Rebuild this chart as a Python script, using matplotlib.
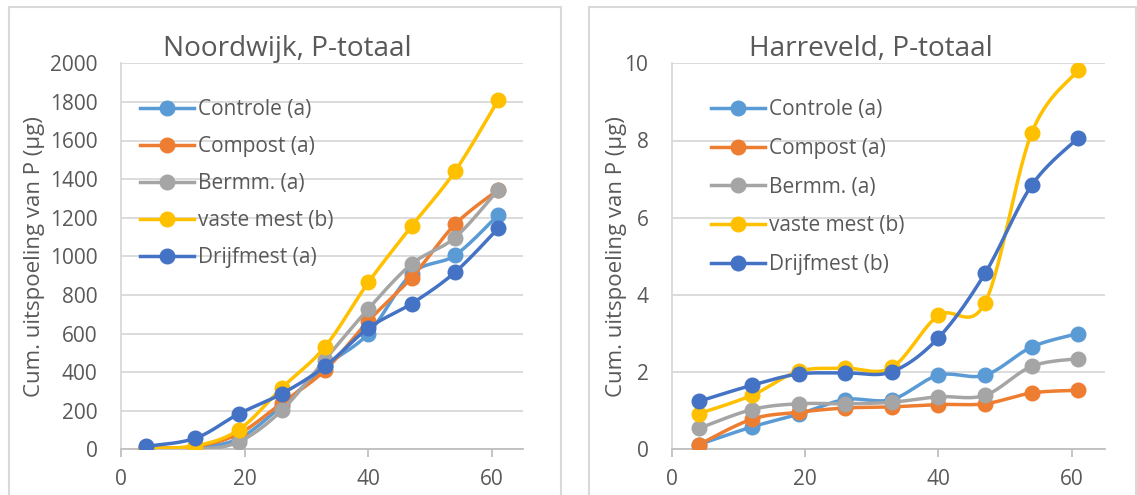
import numpy as np
import matplotlib
matplotlib.use("Agg")
import matplotlib.pyplot as plt
from matplotlib.lines import Line2D
from matplotlib.patches import Rectangle

plt.rcParams['font.family'] = ['Open Sans', 'DejaVu Sans']

days = [4, 12, 19, 26, 33, 40, 47, 54, 61]

nw_controle = [5, 10, 55, 225, 430, 600, 910, 1005, 1215]
nw_compost = [5, 15, 80, 240, 410, 665, 890, 1165, 1345]
nw_bermm = [5, 0, 38, 202, 465, 728, 960, 1097, 1345]
nw_vaste = [5, 18, 100, 318, 532, 865, 1157, 1440, 1810]
nw_drijf = [15, 57, 183, 288, 430, 628, 755, 917, 1145]

hv_controle = [0.12, 0.58, 0.91, 1.29, 1.29, 1.92, 1.92, 2.65, 3.0]
hv_compost = [0.12, 0.78, 0.96, 1.07, 1.10, 1.16, 1.18, 1.46, 1.53]
hv_bermm = [0.54, 1.03, 1.18, 1.18, 1.22, 1.36, 1.40, 2.15, 2.35]
hv_vaste = [0.92, 1.40, 2.02, 2.10, 2.12, 3.47, 3.80, 8.20, 9.82]
hv_drijf = [1.24, 1.66, 1.95, 1.98, 2.01, 2.89, 4.56, 6.84, 8.07]

labels_nw = ["Controle (a)", "Compost (a)", "Bermm. (a)", "vaste mest (b)", "Drijfmest (a)"]
labels_hv = ["Controle (a)", "Compost (a)", "Bermm. (a)", "vaste mest (b)", "Drijfmest (b)"]
colors = ["#5B9BD5", "#ED7D31", "#A5A5A5", "#FFC000", "#4472C4"]

x_ticks = [0, 20, 40, 60]
nw_yticks = [0, 200, 400, 600, 800, 1000, 1200, 1400, 1600, 1800, 2000]
hv_yticks = [0, 2, 4, 6, 8, 10]

TXT = "#595959"
GRID = "#D9D9D9"
W, H = 1137, 495


def smooth(x, y, n=30):
    x = np.asarray(x, float)
    y = np.asarray(y, float)
    P = np.column_stack([x, y])
    k = len(P)
    out = []
    t = np.linspace(0, 1, n)[:, None]
    for i in range(k - 1):
        p0 = P[i]
        p3 = P[i + 1]
        pm = P[i - 1] if i > 0 else P[i]
        pp = P[i + 2] if i + 2 < k else P[i + 1]
        c1 = p0 + (p3 - pm) / 6.0
        c2 = p3 - (pp - p0) / 6.0
        seg = ((1 - t) ** 3) * p0 + 3 * ((1 - t) ** 2) * t * c1 + 3 * (1 - t) * t ** 2 * c2 + t ** 3 * p3
        out.append(seg if i == 0 else seg[1:])
    s = np.vstack(out)
    return s[:, 0], s[:, 1]


def px_rect(x0, y0, x1, y1):
    return [x0 / W, 1 - y1 / H, (x1 - x0) / W, (y1 - y0) / H]


fig = plt.figure(figsize=(W / 100, H / 100), dpi=100)
fig.patch.set_facecolor("white")

# chart-area borders
for (x0, x1) in [(9, 561), (589, 1136)]:
    fig.patches.append(Rectangle((x0 / W, -0.05), (x1 - x0) / W, 1 - 7 / H + 0.05,
                                 transform=fig.transFigure, fill=False,
                                 edgecolor="#D9D9D9", linewidth=1.5))

ax1 = fig.add_axes(px_rect(121, 63.3, 523, 449.3))
ax2 = fig.add_axes(px_rect(672, 63.3, 1105, 449.3))


def style(ax, yticks, ylim, title, series, labels, title_x, leg_anchor, lspace, ylab_x):
    for vals, col, lab in zip(series, colors, labels):
        sx, sy = smooth(days, vals)
        ax.plot(sx, sy, color=col, lw=2.5, solid_capstyle='round', zorder=3)
        ax.plot(days, vals, 'o', color=col, ms=10.5, zorder=3)
    ax.set_xlim(0, 65)
    ax.set_ylim(*ylim)
    ax.set_xticks(x_ticks)
    ax.set_yticks(yticks)
    ax.yaxis.grid(True, color=GRID, lw=1.3)
    ax.set_axisbelow(True)
    for s in ["top", "right"]:
        ax.spines[s].set_visible(False)
    ax.spines["left"].set_color(GRID)
    ax.spines["bottom"].set_color("#BFBFBF")
    ax.spines["left"].set_linewidth(1.3)
    ax.spines["bottom"].set_linewidth(1.3)
    ax.tick_params(axis='y', length=0, pad=17, labelsize=15, labelcolor=TXT)
    ax.tick_params(axis='x', length=6, width=1.3, color="#BFBFBF", pad=8,
                   labelsize=15, labelcolor=TXT)
    ax.set_ylabel("Cum. uitspoeling van P (µg)", fontsize=16, color=TXT)
    ax.yaxis.set_label_coords(ylab_x, 0.5)
    ax.set_title(title, fontsize=20.2, color=TXT, x=title_x, pad=2)
    handles = [Line2D([], [], color=c, lw=2.5, marker='o', ms=10.5) for c in colors]
    leg = ax.legend(handles, labels, loc='upper left', bbox_to_anchor=leg_anchor,
                    frameon=False, fontsize=15, labelspacing=lspace,
                    handlelength=2.6, handletextpad=0.2, borderaxespad=0,
                    borderpad=0)
    for t in leg.get_texts():
        t.set_color(TXT)


style(ax1, nw_yticks, (0, 2000), "Noordwijk, P-totaal",
      [nw_controle, nw_compost, nw_bermm, nw_vaste, nw_drijf], labels_nw,
      0.413, (0.047, 0.907), 0.77, -0.189)
style(ax2, hv_yticks, (0, 10), "Harreveld, P-totaal",
      [hv_controle, hv_compost, hv_bermm, hv_vaste, hv_drijf], labels_hv,
      0.46, (0.089, 0.907), 0.85, -0.104)

fig.savefig("out.png", dpi=100)
